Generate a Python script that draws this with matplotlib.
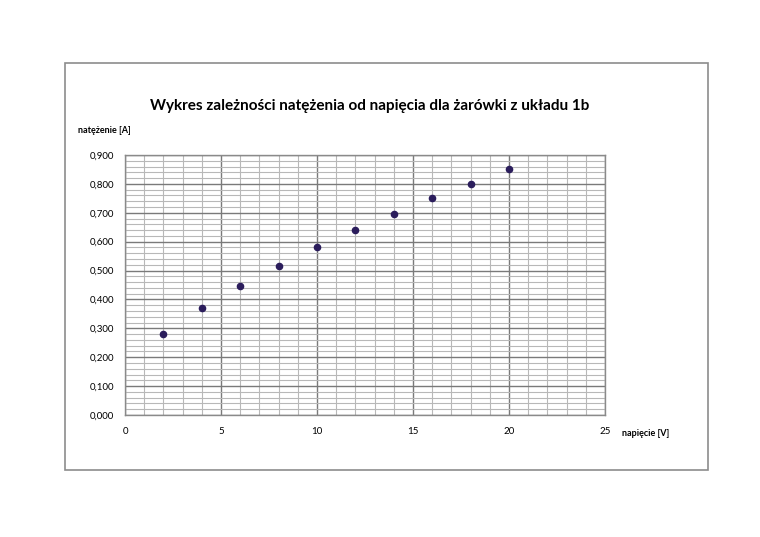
import numpy as np
import matplotlib.pyplot as plt
from matplotlib.patches import Rectangle
from matplotlib.ticker import MultipleLocator, FuncFormatter

# napięcie [V] i natężenie [A]
napiecie = [2, 4, 6, 8, 10, 12, 14, 16, 18, 20]
natezenie = [0.28, 0.37, 0.447, 0.517, 0.58, 0.642, 0.697, 0.752, 0.80, 0.852]

plt.rcParams['font.family'] = ['Lato', 'DejaVu Sans']

fig = plt.figure(figsize=(7.6, 5.37), dpi=100)

# outer frame of the chart area
fig.patches.append(Rectangle((0.0855, 0.1248), 0.846, 0.758, transform=fig.transFigure,
                             fill=False, edgecolor='#8c8c8c', linewidth=1.2))

ax = fig.add_axes([0.1645, 0.2272, 0.6316, 0.4842])
ax.set_xlim(0, 25)
ax.set_ylim(0, 0.9)

ax.xaxis.set_major_locator(MultipleLocator(5))
ax.xaxis.set_minor_locator(MultipleLocator(1))
ax.yaxis.set_major_locator(MultipleLocator(0.1))
ax.yaxis.set_minor_locator(MultipleLocator(0.02))
ax.yaxis.set_major_formatter(FuncFormatter(lambda v, p: '{:.3f}'.format(v).replace('.', ',')))

ax.grid(which='major', color='#7a7a7a', linewidth=1.0)
ax.grid(which='minor', color='#b8b8b8', linewidth=0.8)
ax.set_axisbelow(True)

for s in ax.spines.values():
    s.set_color('#8a8a8a')
    s.set_linewidth(1.0)

ax.tick_params(which='both', length=0)
ax.tick_params(axis='y', labelsize=7, pad=8)
ax.tick_params(axis='x', labelsize=7, pad=9)

ax.scatter(napiecie, natezenie, s=20, color='#2b1d5c', zorder=3)

fig.text(0.486, 0.803, 'Wykres zależności natężenia od napięcia dla żarówki z układu 1b',
         ha='center', va='center', fontsize=11, fontweight='bold')
fig.text(0.103, 0.757, 'natężenie [A]', ha='left', va='center', fontsize=6.5, fontweight='bold')
fig.text(0.819, 0.193, 'napięcie [V]', ha='left', va='center', fontsize=6.5, fontweight='bold')

fig.savefig('out.png', dpi=100)
